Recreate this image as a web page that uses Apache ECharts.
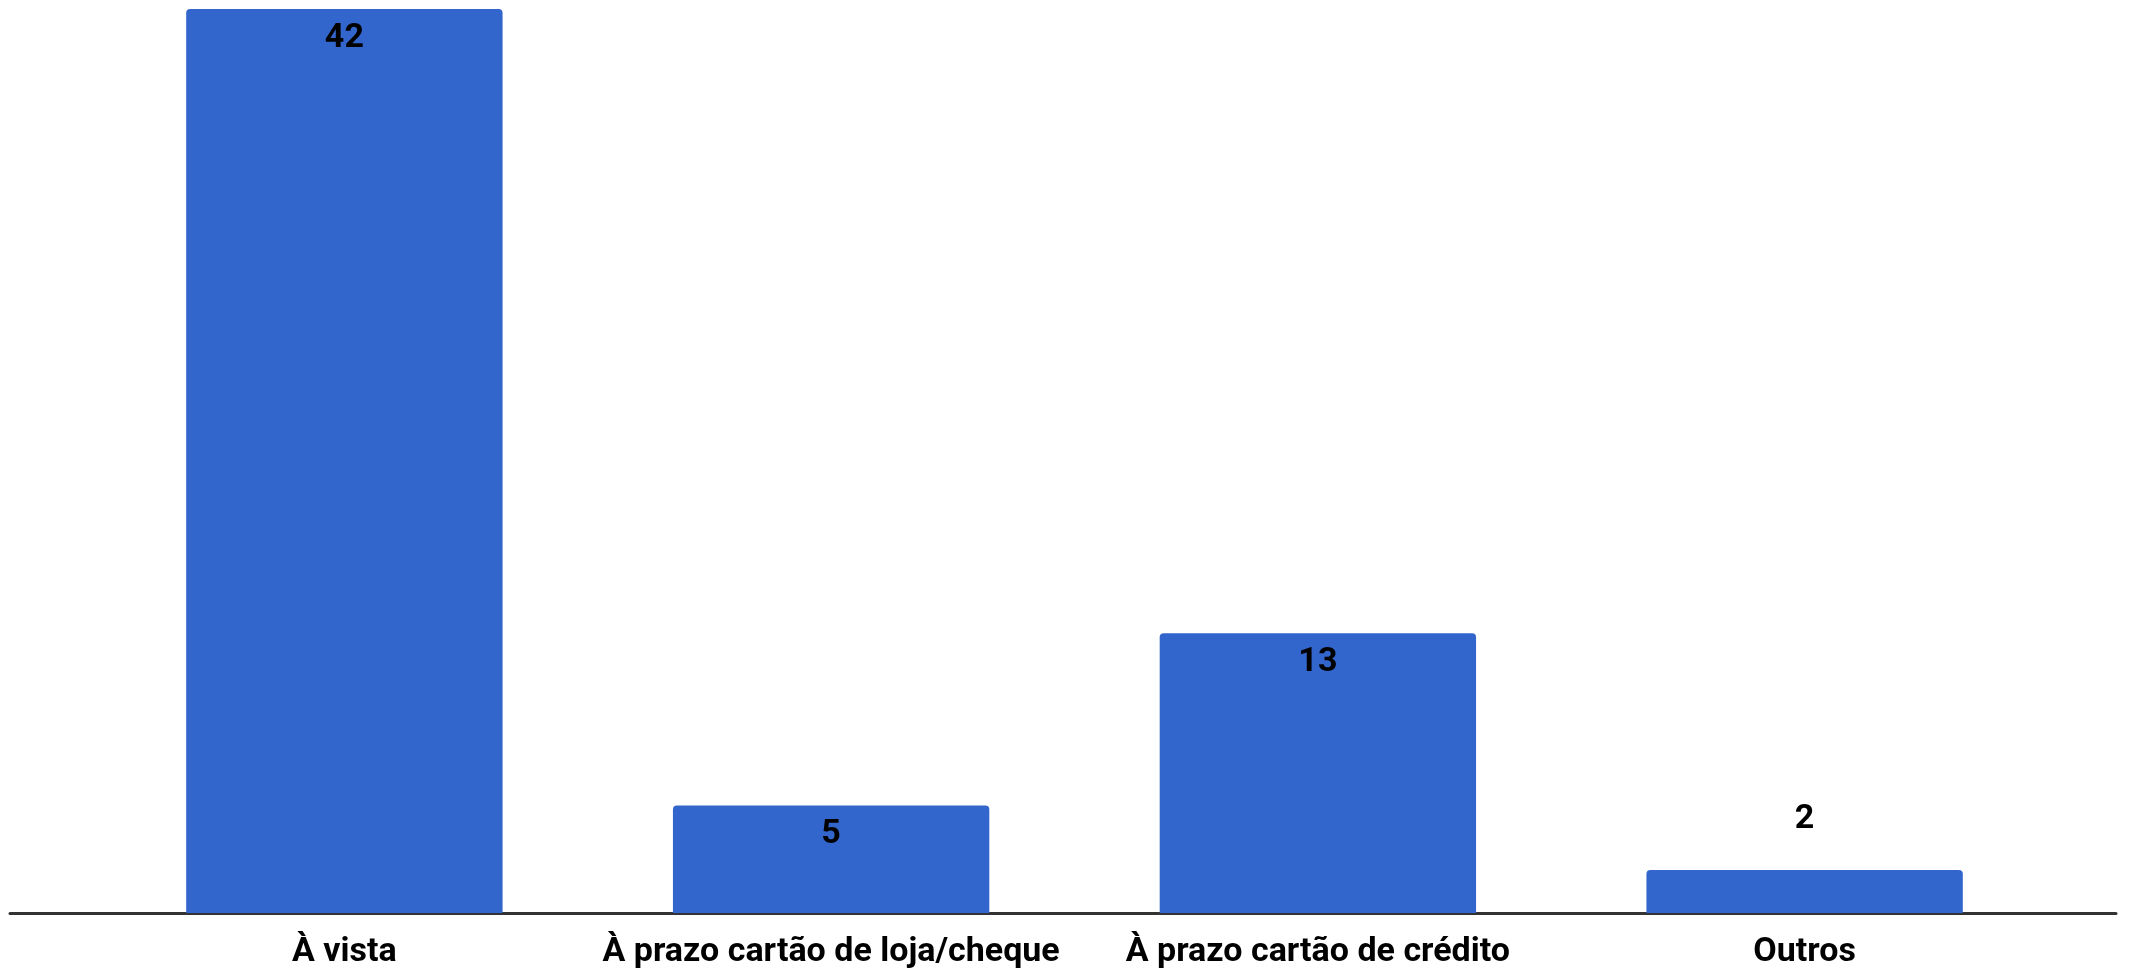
<!DOCTYPE html>
<html>
<head>
<meta charset="utf-8">
<script src="https://cdn.jsdelivr.net/npm/echarts@6/dist/echarts.min.js"></script>
<style>
html,body{margin:0;padding:0;background:#fff;}
#chart{width:2144px;height:973px;}
</style>
</head>
<body>
<div id="chart"></div>
<script>
const categories = ["À vista", "À prazo cartão de loja/cheque", "À prazo cartão de crédito", "Outros"];
const values = [42, 5, 13, 2];

const barColor = "#3366cc";
const fontFamily = "Roboto, 'Liberation Sans', sans-serif";

const data = values.map(function (v) {
  const inside = v >= 5;
  return {
    value: v,
    label: inside
      ? { position: "insideTop", distance: 12 }
      : { position: "top", distance: 33 }
  };
});

const chart = echarts.init(document.getElementById("chart"), null, { renderer: "canvas" });
chart.setOption({
  backgroundColor: "#ffffff",
  animation: false,
  grid: [
    { left: 101, right: 96, top: 9, bottom: 60 },
    { left: 10, right: 28, top: 9, bottom: 60 }
  ],
  xAxis: [
    {
      type: "category",
      gridIndex: 0,
      data: categories,
      axisLine: { show: false },
      axisTick: { show: false },
      axisLabel: {
        color: "#000",
        fontFamily: fontFamily,
        fontWeight: "bold",
        fontSize: 34,
        margin: 22,
        interval: 0
      }
    },
    {
      type: "value",
      gridIndex: 1,
      min: 0,
      max: 1,
      axisLine: { show: true, onZero: false, lineStyle: { color: "#333333", width: 3 } },
      axisTick: { show: false },
      axisLabel: { show: false },
      splitLine: { show: false }
    }
  ],
  yAxis: [
    {
      type: "value",
      gridIndex: 0,
      min: 0,
      max: 42,
      show: false,
      splitLine: { show: false }
    },
    {
      type: "value",
      gridIndex: 1,
      min: 0,
      max: 1,
      show: false
    }
  ],
  series: [
    {
      type: "bar",
      xAxisIndex: 0,
      yAxisIndex: 0,
      data: data,
      barCategoryGap: "35%",
      itemStyle: { color: barColor, borderRadius: [4, 4, 0, 0] },
      label: {
        show: true,
        color: "#000",
        fontFamily: fontFamily,
        fontWeight: "bold",
        fontSize: 34
      }
    }
  ]
});
</script>
</body>
</html>
